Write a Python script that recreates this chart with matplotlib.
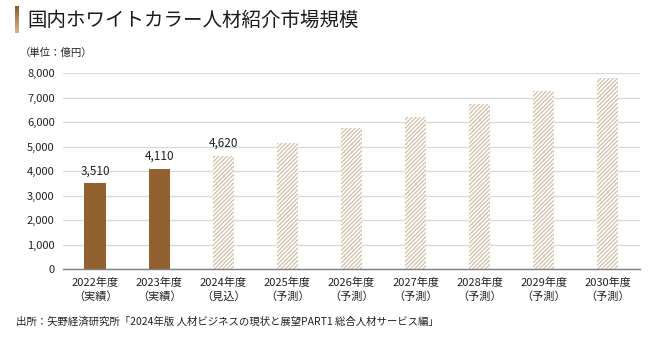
import numpy as np
import matplotlib
matplotlib.use("Agg")
import matplotlib.pyplot as plt

plt.rcParams["font.family"] = ["Noto Sans CJK JP", "DejaVu Sans"]
plt.rcParams["hatch.linewidth"] = 0.9

years = ["2022年度", "2023年度", "2024年度", "2025年度", "2026年度",
         "2027年度", "2028年度", "2029年度", "2030年度"]
kinds = ["（実績）", "（実績）", "（見込）", "（予測）", "（予測）",
         "（予測）", "（予測）", "（予測）", "（予測）"]
values = [3510, 4110, 4620, 5170, 5750, 6230, 6750, 7280, 7820]
labelled = [True, True, True, False, False, False, False, False, False]
actual = [True, True, False, False, False, False, False, False, False]
yticks = [0, 1000, 2000, 3000, 4000, 5000, 6000, 7000, 8000]

fig = plt.figure(figsize=(6.53, 3.37), dpi=100)
ax = fig.add_axes([0.0965, 0.2009, 0.8835, 0.5816])

x = np.arange(len(values))
for xi, v, a in zip(x, values, actual):
    if a:
        ax.bar(xi, v, width=0.33, color="#93602f", linewidth=0, zorder=3)
    else:
        ax.bar(xi, v, width=0.33, color="white", edgecolor="#d3bfa8",
               hatch="////////", linewidth=0, zorder=3)

for xi, v, lab in zip(x, values, labelled):
    if lab:
        ax.text(xi, v + 250, f"{v:,}", ha="center", va="bottom",
                fontsize=8.5, color="#222222")

ax.set_xlim(-0.5, len(values) - 0.5)
ax.set_ylim(0, 8000)
ax.set_yticks(yticks)
ax.set_yticklabels([f"{t:,}" for t in yticks], fontsize=8, color="#222222")
ax.set_xticks(x)
ax.set_xticklabels([f"{y}\n{k}" for y, k in zip(years, kinds)],
                   fontsize=8, color="#222222", linespacing=1.4)
ax.tick_params(axis="y", length=0, pad=6)
ax.tick_params(axis="x", length=0, pad=6)
ax.grid(axis="y", color="#d9d9d9", linewidth=0.9, zorder=0)
for s in ["top", "right", "left"]:
    ax.spines[s].set_visible(False)
ax.spines["bottom"].set_color("#7f7f7f")
ax.spines["bottom"].set_linewidth(1.0)
ax.spines["bottom"].set_zorder(4)

# title with gradient marker
grad = np.linspace(0, 1, 50).reshape(-1, 1)
gax = fig.add_axes([15 / 653, 1 - 33 / 337, 3.5 / 653, 27 / 337])
cmap = matplotlib.colors.LinearSegmentedColormap.from_list(
    "brown", ["#8a5a2b", "#b58a5c", "#d2b48f"])
gax.imshow(grad, aspect="auto", cmap=cmap)
gax.axis("off")

fig.text(27 / 653, 1 - 20 / 337, "国内ホワイトカラー人材紹介市場規模",
         fontsize=14, va="center", ha="left", color="#1a1a1a")
fig.text(20 / 653, 1 - 53 / 337, "（単位：億円）", fontsize=7.5,
         va="center", ha="left", color="#222222")
fig.text(16 / 653, 1 - 322 / 337,
         "出所：矢野経済研究所「2024年版 人材ビジネスの現状と展望PART1 総合人材サービス編」",
         fontsize=7.5, va="center", ha="left", color="#222222")

fig.savefig("out.png", dpi=100)
